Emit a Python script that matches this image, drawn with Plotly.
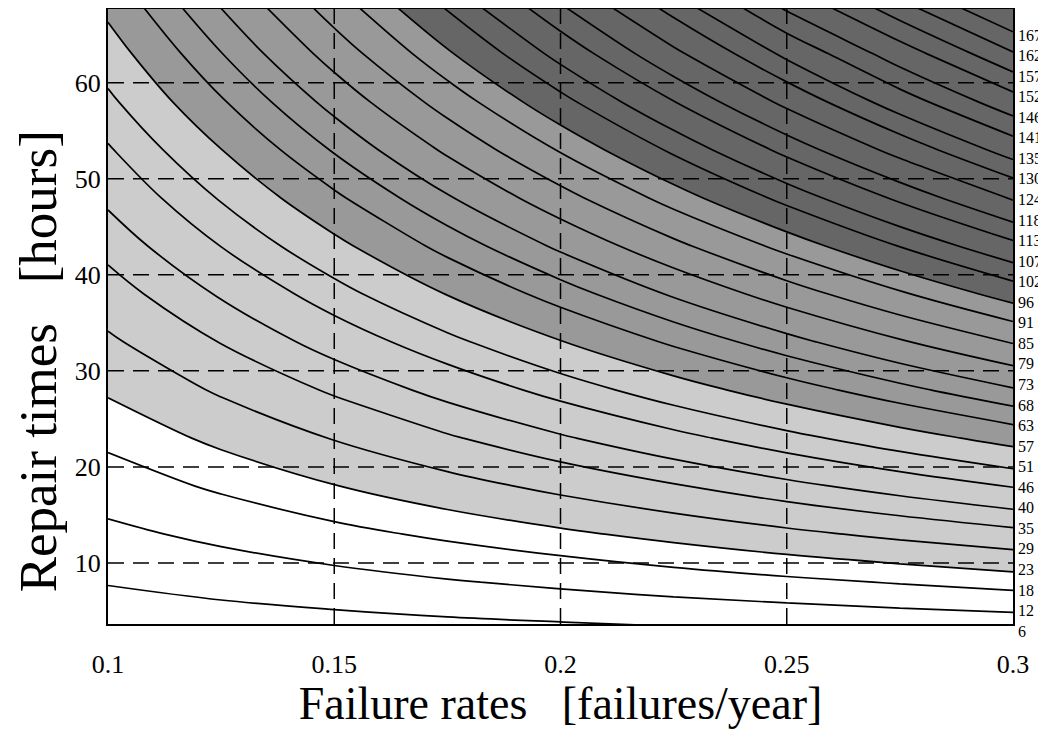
import plotly.graph_objects as go

# ---- data ----
failure_rates = [0.100, 0.125, 0.150, 0.175, 0.200, 0.225, 0.250, 0.275, 0.300]
repair_times = [3, 8, 13, 18, 23, 28, 33, 38, 43, 48, 53, 58, 63, 68]
# cost values on the grid (rows = repair_times, cols = failure_rates)
cost = [
    [1.9, 2.6, 3.2, 3.9, 4.5, 5.2, 5.8, 6.5, 7.1],
    [6.3, 8.0, 9.7, 11.5, 13.2, 15.0, 16.7, 18.4, 20.2],
    [10.6, 13.4, 16.3, 19.1, 21.9, 24.7, 27.6, 30.4, 33.2],
    [15.0, 18.9, 22.8, 26.7, 30.6, 34.5, 38.5, 42.4, 46.3],
    [19.3, 24.3, 29.3, 34.3, 39.3, 44.3, 49.3, 54.3, 59.3],
    [23.7, 29.8, 35.8, 41.9, 48.0, 54.1, 60.2, 66.3, 72.4],
    [28.0, 35.2, 42.4, 49.5, 56.7, 63.9, 71.1, 78.3, 85.4],
    [32.4, 40.6, 48.9, 57.2, 65.4, 73.7, 82.0, 90.2, 98.5],
    [36.7, 46.1, 55.4, 64.8, 74.1, 83.5, 92.8, 102.2, 111.5],
    [41.1, 51.5, 61.9, 72.4, 82.8, 93.3, 103.7, 114.1, 124.6],
    [45.4, 56.9, 68.5, 80.0, 91.5, 103.0, 114.6, 126.1, 137.6],
    [49.8, 62.4, 75.0, 87.6, 100.2, 112.8, 125.5, 138.1, 149.5],
    [54.1, 67.8, 81.5, 95.2, 108.9, 122.6, 136.3, 149.0, 161.5],
    [58.5, 73.3, 88.0, 102.8, 117.6, 132.4, 147.2, 160.5, 173.5],
]
contour_levels = [6, 12, 18, 23, 29, 35, 40, 46, 51, 57, 63, 68, 73, 79, 85,
                  91, 96, 102, 107, 113, 118, 124, 130, 135, 141, 146, 152,
                  157, 162, 167]
shade_levels = [23, 57, 96]
shade_colors = ["#cccccc", "#999999", "#666666"]
x_ticks = [0.1, 0.15, 0.2, 0.25, 0.3]
x_tick_text = ["0.1", "0.15", "0.2", "0.25", "0.3"]
y_ticks = [10, 20, 30, 40, 50, 60]
x_range = [0.1, 0.3]
y_range = [3.65, 67.67]

SERIF = "Liberation Serif, Times New Roman, serif"

fig = go.Figure()

# shaded bands
for lvl, col in zip(shade_levels, shade_colors):
    fig.add_trace(go.Contour(
        x=failure_rates, y=repair_times, z=cost,
        contours=dict(type="constraint", operation="<", value=lvl),
        fillcolor=col, line=dict(width=0, smoothing=1),
        showscale=False, hoverinfo="skip",
    ))

# contour lines
for lvl in contour_levels:
    fig.add_trace(go.Contour(
        x=failure_rates, y=repair_times, z=cost,
        autocontour=False,
        contours=dict(start=lvl, end=lvl, size=1, coloring="none"),
        line=dict(color="black", width=1.7, smoothing=1),
        showscale=False, hoverinfo="skip",
    ))

# invisible trace for the right-hand level labels axis
fig.add_trace(go.Scatter(x=[None], y=[None], xaxis="x", yaxis="y2",
                         showlegend=False, hoverinfo="skip"))

# dashed grid lines drawn above the fills
for xv in x_ticks[1:-1]:
    fig.add_shape(type="line", xref="x", yref="y domain", x0=xv, x1=xv,
                  y0=0, y1=1, layer="above",
                  line=dict(color="black", width=1.5, dash="16px,9px"))
for yv in y_ticks:
    fig.add_shape(type="line", xref="x domain", yref="y", x0=0, x1=1,
                  y0=yv, y1=yv, layer="above",
                  line=dict(color="black", width=1.5, dash="16px,9px"))

# page body has an 8px margin, so the figure is laid out 8px smaller
W, H = 1038, 721
M_L, M_R, M_T, M_B = 100, 33, 1, 72
paper_h = H - M_T - M_B
plot_bottom = 616
bottom_frac = (H - M_B - plot_bottom) / paper_h

fig.update_layout(
    width=W, height=H,
    margin=dict(l=M_L, r=M_R, t=M_T, b=M_B, autoexpand=False),
    paper_bgcolor="white", plot_bgcolor="rgba(0,0,0,0)",
    showlegend=False,
    xaxis=dict(
        range=x_range, tickvals=x_ticks, ticktext=x_tick_text,
        showgrid=False, zeroline=False, showline=True, mirror=True,
        linecolor="black", linewidth=2, layer="above traces",
        ticks="", ticklabelstandoff=16,
        tickfont=dict(family=SERIF, size=26, color="black"),
        title=dict(text="Failure rates\u00a0\u00a0 [failures/year]",
                   font=dict(family=SERIF, size=46, color="black"), standoff=7),
    ),
    yaxis=dict(
        range=y_range, tickvals=y_ticks, domain=[bottom_frac, 1],
        showgrid=False, zeroline=False, showline=True, mirror=True,
        linecolor="black", linewidth=2, layer="above traces",
        ticks="", ticklabelstandoff=0,
        tickfont=dict(family=SERIF, size=26, color="black"),
    ),
    yaxis2=dict(
        anchor="x", side="right", domain=[0, 1],
        range=[-1.265, 30.265],
        tickvals=list(range(len(contour_levels))),
        ticktext=[str(v) for v in contour_levels],
        showgrid=False, zeroline=False, showline=False, ticks="",
        ticklabelstandoff=4,
        tickfont=dict(family=SERIF, size=16, color="black"),
    ),
    annotations=[dict(
        text="Repair times\u00a0\u00a0 [hours]", xref="paper", yref="paper",
        x=-0.0775, y=0.456, xanchor="center", yanchor="middle",
        textangle=-90, showarrow=False,
        font=dict(family=SERIF, size=53, color="black"),
    )],
)

fig.write_html("out.html")
